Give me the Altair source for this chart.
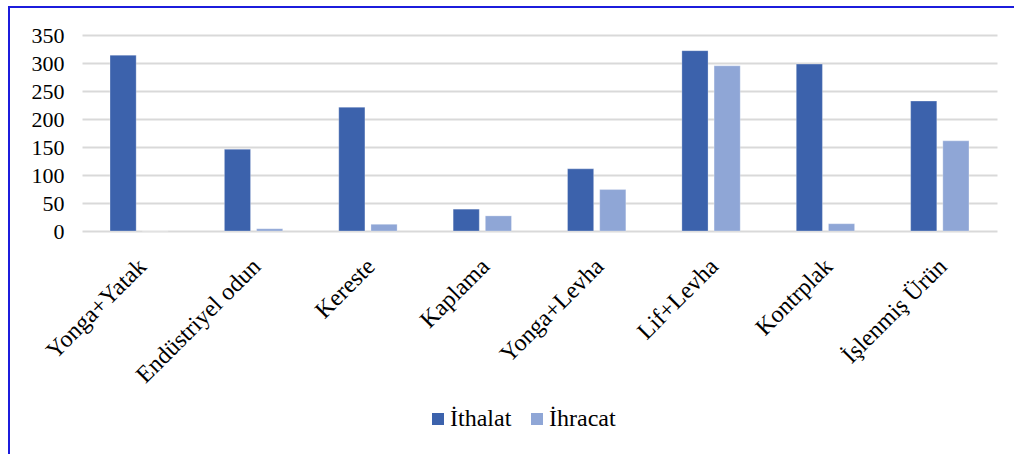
import altair as alt
import pandas as pd

# Ürün grupları ve değerleri
categories = ["Yonga+Yatak", "Endüstriyel odun", "Kereste", "Kaplama",
              "Yonga+Levha", "Lif+Levha", "Kontrplak", "İşlenmiş Ürün"]
ithalat = [314, 146, 221, 39, 111, 322, 298, 232]
ihracat = [0, 4, 12, 27, 74, 295, 13, 161]
series = ["İthalat", "İhracat"]
colors = ["#3c62ac", "#8fa6d6"]
y_ticks = [0, 50, 100, 150, 200, 250, 300, 350]

rows = []
for c, a, b in zip(categories, ithalat, ihracat):
    rows.append({"Ürün": c, "Seri": series[0], "Değer": a})
    rows.append({"Ürün": c, "Seri": series[1], "Değer": b})
df = pd.DataFrame(rows)

FONT = "Liberation Serif"

bars = alt.Chart(df).mark_bar(stroke="#ffffff", strokeOpacity=0.35, strokeWidth=0.8).encode(
    x=alt.X("Ürün:N", sort=categories,
            scale=alt.Scale(paddingInner=0.49, paddingOuter=0.245),
            axis=alt.Axis(title=None, labelAngle=-45, labelFont=FONT, labelFontSize=24,
                          labelColor="#000000", labelPadding=23, labelOffset=-5,
                          ticks=False, domain=False, labelLimit=300)),
    xOffset=alt.XOffset("Seri:N", sort=series,
                        scale=alt.Scale(paddingInner=0.1875, paddingOuter=0)),
    y=alt.Y("Değer:Q", scale=alt.Scale(domain=[0, 350], nice=False),
            axis=alt.Axis(title=None, values=y_ticks, labelFont=FONT, labelFontSize=22,
                          labelColor="#000000", labelPadding=18, ticks=False, domain=False,
                          grid=True, gridColor="#d9d9d9", gridWidth=2)),
    color=alt.Color("Seri:N", sort=series,
                    scale=alt.Scale(domain=series, range=colors),
                    legend=alt.Legend(title=None, orient="none", direction="horizontal",
                                      legendX=344, legendY=372,
                                      symbolType="square", symbolSize=144,
                                      symbolStrokeWidth=0, labelFont=FONT,
                                      labelFontSize=24, labelColor="#000000",
                                      labelOffset=0, columnPadding=13)),
)

# Çerçeve: sol ve üst kenar çizgileri
one = pd.DataFrame({"k": [0]})
left_edge = alt.Chart(one).mark_rule(color="#1c1cdc", strokeWidth=2).encode(
    x=alt.value(-73), x2=alt.value(-73), y=alt.value(-28), y2=alt.value(419))
top_edge = alt.Chart(one).mark_rule(color="#1c1cdc", strokeWidth=2).encode(
    x=alt.value(-74), x2=alt.value(932), y=alt.value(-28), y2=alt.value(-28))

chart = alt.layer(bars, left_edge, top_edge).properties(
    width=915, height=196,
    autosize=alt.AutoSizeParams(type="none"),
    padding={"left": 82, "top": 35, "right": 17, "bottom": 223},
    background="#ffffff",
).configure_view(stroke=None)

chart.save("out.html", embed_options={"renderer": "svg", "actions": False})
